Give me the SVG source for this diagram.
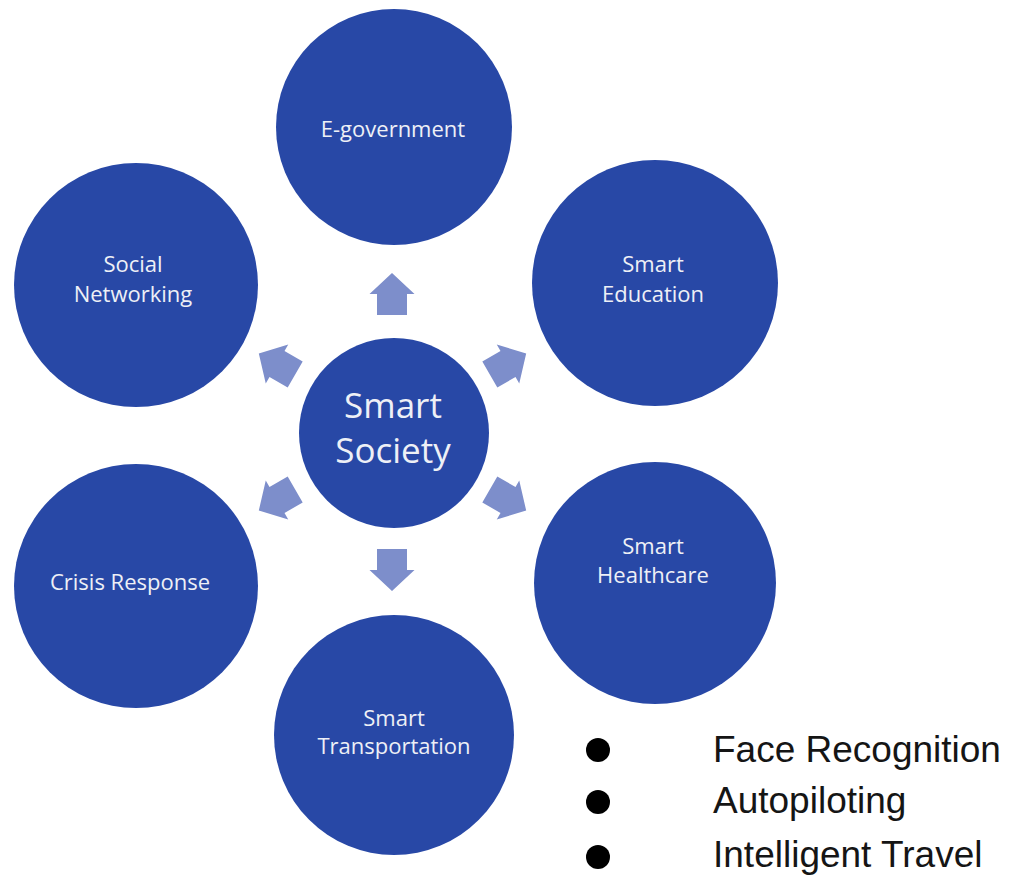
<svg xmlns="http://www.w3.org/2000/svg" xmlns:xlink="http://www.w3.org/1999/xlink" width="1028" height="883" viewBox="0 0 1028 883">
<style>
.node{fill:#2848a6}
.lbl{font-family:"Open Sans","Liberation Sans",sans-serif;font-size:22px;fill:#eef0f6;text-anchor:middle}
.big{font-size:35px}
.arr{fill:#7d8ecb}
.leg{font-family:"Liberation Sans",Arial,sans-serif;font-size:37px;fill:#151515}
</style>
<defs>
<path id="arrow" class="arr" d="M -21,-15 L 0,-15 L 0,-22.5 L 21,0 L 0,22.5 L 0,15 L -21,15 Z"/>
</defs>
<rect width="1028" height="883" fill="#ffffff"/>
<g id="connectors">
<use href="#arrow" xlink:href="#arrow" transform="translate(392,294) rotate(-90)"/>
<use href="#arrow" xlink:href="#arrow" transform="translate(392,570) rotate(90)"/>
<use href="#arrow" xlink:href="#arrow" transform="translate(277,364) rotate(-150)"/>
<use href="#arrow" xlink:href="#arrow" transform="translate(508,364) rotate(-30)"/>
<use href="#arrow" xlink:href="#arrow" transform="translate(508,500) rotate(30)"/>
<use href="#arrow" xlink:href="#arrow" transform="translate(277,500) rotate(150)"/>
</g>
<g id="smart-society">
<circle class="node" cx="394" cy="433" r="95"/>
<text class="lbl big" x="393" y="418">Smart</text>
<text class="lbl big" x="393" y="463">Society</text>
</g>
<g id="e-government">
<circle class="node" cx="394" cy="127" r="118"/>
<text class="lbl" x="393" y="137">E-government</text>
</g>
<g id="social-networking">
<circle class="node" cx="136" cy="285" r="122"/>
<text class="lbl" x="133" y="272">Social</text>
<text class="lbl" x="133" y="302">Networking</text>
</g>
<g id="smart-education">
<circle class="node" cx="655" cy="283" r="123"/>
<text class="lbl" x="653" y="272">Smart</text>
<text class="lbl" x="653" y="302">Education</text>
</g>
<g id="crisis-response">
<circle class="node" cx="136" cy="586" r="122"/>
<text class="lbl" x="130" y="590">Crisis Response</text>
</g>
<g id="smart-healthcare">
<circle class="node" cx="655" cy="583" r="121"/>
<text class="lbl" x="653" y="554">Smart</text>
<text class="lbl" x="653" y="583">Healthcare</text>
</g>
<g id="smart-transportation">
<circle class="node" cx="394" cy="735" r="120"/>
<text class="lbl" x="394" y="726">Smart</text>
<text class="lbl" x="394" y="754">Transportation</text>
</g>
<g id="legend">
<circle cx="598" cy="750" r="12" fill="#000"/>
<circle cx="598" cy="802" r="12" fill="#000"/>
<circle cx="598" cy="857" r="12" fill="#000"/>
<text class="leg" x="713" y="762">Face Recognition</text>
<text class="leg" x="713" y="813">Autopiloting</text>
<text class="leg" x="713" y="867">Intelligent Travel</text>
</g>
</svg>
